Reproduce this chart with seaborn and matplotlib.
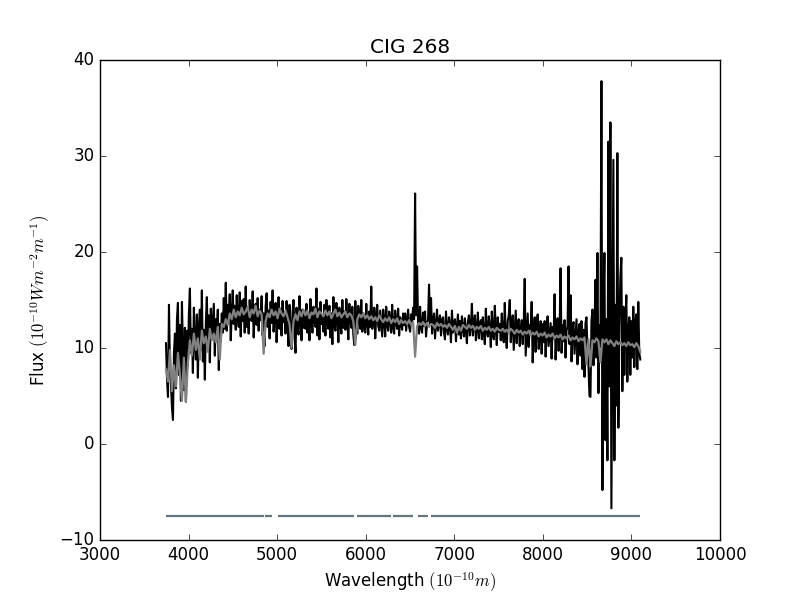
import numpy as np
import pandas as pd
import matplotlib
matplotlib.use("Agg")
import matplotlib.pyplot as plt
import seaborn as sns

# Domaine en longueur d'onde (Angstrom) des deux spectres
lambda_min = 3745.0
lambda_max = 9100.0

flux_obs = [
    10.5, 6.8, 4.9, 14.5, 8.0, 6.2, 3.8, 2.5, 9.5, 11.5, 5.8, 13.0, 14.7, 7.2, 12.4, 4.5, 14.8, 9.8, 5.6, 12.1,
    4.4, 11.8, 8.2, 13.6, 16.2, 9.5, 12.0, 7.4, 14.2, 10.6, 8.8, 13.5, 6.9, 12.2, 14.0, 9.8, 16.0, 8.6, 11.9, 6.7,
    12.6, 15.3, 10.2, 13.4, 8.5, 14.1, 11.0, 12.8, 14.6, 9.2, 13.0, 11.4, 14.0, 7.7, 12.5, 10.8, 13.6, 11.6, 15.2, 12.0,
    16.8, 11.8, 14.5, 12.9, 15.6, 10.8, 13.7, 16.0, 12.5, 14.4, 11.9, 15.5, 13.1, 12.2, 15.8, 11.2, 14.9, 12.8, 15.1, 11.6,
    16.4, 12.2, 14.2, 11.5, 15.0, 13.3, 12.8, 15.9, 11.1, 13.8, 14.6, 12.4, 15.2, 11.8, 14.0, 12.9, 15.4, 11.3, 13.6, 10.2,
    14.3, 15.7, 12.2, 13.9, 11.0, 14.8, 12.6, 16.0, 11.7, 13.5, 14.7, 10.6, 13.2, 15.3, 12.0, 14.1, 11.3, 14.9, 12.7, 13.4,
    11.5, 14.9, 12.8, 10.2, 14.5, 11.9, 9.9, 13.6, 15.0, 11.2, 9.5, 14.2, 12.4, 11.4, 15.4, 12.9, 10.8, 14.0, 12.1, 13.7,
    12.0, 14.6, 11.6, 13.5, 10.8, 15.1, 12.7, 11.6, 14.3, 13.0, 12.2, 16.2, 11.3, 14.1, 10.9, 14.8, 12.5, 13.3, 11.7, 14.5,
    11.3, 15.0, 12.9, 12.0, 14.4, 11.1, 13.6, 10.4, 15.3, 12.3, 11.8, 14.7, 13.2, 10.6, 14.2, 12.6, 11.5, 15.0, 12.1, 13.8,
    11.9, 15.1, 12.8, 10.9, 14.6, 13.0, 12.1, 14.3, 11.4, 10.3, 14.9, 12.5, 11.5, 14.4, 13.1, 12.0, 15.0, 11.7, 13.6, 12.4,
    11.6, 14.6, 12.7, 11.4, 13.8, 12.2, 16.4, 12.0, 13.3, 14.2, 11.0, 13.5, 14.5, 12.3, 11.8, 13.9, 12.6, 11.2, 14.0, 12.9,
    11.2, 14.3, 12.5, 11.8, 13.8, 12.9, 11.6, 14.5, 12.2, 11.5, 13.9, 12.7, 12.0, 14.1, 11.3, 13.2, 12.6, 11.9, 13.6, 12.4,
    13.6, 11.8, 12.9, 14.0, 12.2, 11.7, 13.5, 12.8, 14.2, 13.0, 26.1, 13.4, 18.5, 12.4, 11.5, 14.3, 12.1, 11.6, 13.7, 12.3,
    13.8, 11.2, 12.6, 12.9, 16.6, 12.5, 15.2, 11.5, 12.8, 13.6, 11.0, 12.4, 14.0, 11.8, 12.7, 13.4, 11.3, 12.9, 13.2, 11.6,
    10.9, 13.8, 12.0, 11.4, 13.2, 12.4, 10.6, 13.9, 11.6, 12.6, 13.0, 10.7, 12.2, 13.5, 11.4, 12.8, 11.0, 13.3, 12.1, 11.2,
    13.1, 11.7, 10.5, 12.7, 13.4, 11.3, 12.2, 14.6, 11.3, 12.6, 13.4, 10.8, 12.0, 13.7, 11.0, 12.4, 12.9, 10.9, 13.2, 11.5,
    10.4, 14.1, 11.8, 11.2, 13.3, 12.1, 10.1, 13.8, 11.6, 10.9, 14.4, 12.0, 10.3, 13.2, 11.7, 12.5, 10.8, 13.6, 11.4, 10.6,
    14.7, 11.3, 10.0, 12.8, 13.4, 15.0, 10.6, 12.2, 13.4, 9.8, 11.9, 13.9, 10.5, 12.6, 13.0, 10.2, 11.8, 12.9, 10.4, 12.3,
    17.2, 9.2, 11.5, 13.6, 10.1, 12.4, 12.0, 14.8, 8.5, 11.6, 13.2, 9.6, 12.1, 13.5, 9.9, 11.2, 12.8, 9.4, 12.5, 10.6,
    12.8, 9.1, 11.7, 13.3, 10.2, 11.4, 12.6, 8.9, 12.2, 11.0, 15.6, 8.8, 11.9, 13.1, 9.7, 11.5, 18.3, 9.5, 12.4, 10.7,
    12.9, 9.0, 11.8, 12.3, 18.5, 10.4, 15.5, 8.6, 12.1, 12.7, 9.4, 11.3, 13.0, 8.3, 11.6, 12.5, 9.2, 12.8, 7.8, 11.9,
    7.0, 12.6, 13.2, 9.8, 8.1, 5.0, 4.9, 12.8, 14.0, 8.2, 11.7, 17.1, 9.0, 19.9, 5.3, 12.4, 10.1, 37.8, -4.8, 13.5,
    19.9, 0.4, 13.0, -1.7, 31.5, 6.0, 33.5, -6.7, 12.2, 29.6, -1.7, 14.5, 4.0, 30.3, 1.7, 11.8, 17.4, 19.4, 5.5, 14.3,
    7.2, 12.9, 15.5, 6.5, 11.8, 13.2, 7.2, 12.8, 9.0, 14.3, 8.0, 12.6, 13.5, 7.8, 14.8, 9.5, 8.8,
]

# Spectre modele (gris), ~22 A par point
flux_model = [
    7.8, 6.5, 9.8, 5.5, 8.2, 6.0, 9.5, 7.2, 4.5, 9.0,
    4.4, 8.5, 10.8, 9.2, 11.5, 9.8, 11.0, 8.8, 11.8, 10.5,
    11.2, 9.6, 12.0, 10.8, 11.5, 10.6, 12.2, 8.8, 12.5, 12.2,
    13.0, 12.4, 13.6, 13.0, 14.0, 13.2, 13.8, 13.4, 14.2, 13.5,
    13.8, 14.3, 13.2, 14.0, 13.6, 14.4, 13.3, 13.9, 13.5, 9.4,
    12.8, 13.6, 13.2, 14.0, 13.4, 13.8, 13.1, 14.1, 13.6, 13.3,
    13.9, 13.2, 12.5, 10.0, 12.8, 13.5, 12.9, 13.8, 13.3, 14.0,
    13.4, 13.9, 13.1, 13.7, 13.5, 14.1, 13.2, 13.8, 13.6, 13.3,
    13.9, 13.4, 13.8, 13.1, 13.6, 14.0, 13.3, 13.7, 13.2, 13.5,
    13.8, 13.2, 13.6, 13.4, 12.8, 10.3, 13.0, 13.5, 13.2, 13.6,
    13.1, 13.4, 13.0, 13.3, 12.9, 13.2, 12.8, 13.4, 13.0, 12.7,
    13.1, 12.8, 13.2, 12.6, 13.0, 12.7, 13.1, 12.5, 12.9, 12.6,
    12.8, 12.5, 12.9, 12.4, 12.7, 9.1, 12.3, 12.6, 12.4, 12.7,
    12.3, 12.6, 12.2, 12.5, 12.4, 12.1, 12.6, 12.3, 12.5, 12.2,
    12.4, 12.1, 12.5, 12.2, 11.9, 12.3, 11.6, 12.2, 11.8, 12.4,
    12.2, 12.0, 12.4, 12.1, 12.3, 11.9, 12.2, 12.0, 12.3, 11.8,
    12.1, 11.9, 12.2, 11.8, 12.0, 11.7, 12.1, 11.9, 11.8, 12.0,
    11.7, 11.9, 11.6, 12.0, 11.8, 11.5, 11.9, 11.6, 11.8, 11.4,
    11.7, 11.5, 11.8, 11.3, 11.6, 11.4, 11.7, 11.2, 11.5, 11.3,
    11.6, 11.1, 11.4, 11.2, 11.5, 11.0, 11.3, 11.1, 11.4, 10.9,
    11.2, 11.0, 11.3, 10.8, 11.1, 10.9, 11.2, 10.7, 11.0, 10.8,
    11.1, 8.3, 10.9, 8.1, 10.8, 10.6, 11.0, 10.7, 8.5, 10.9,
    10.6, 10.9, 10.4, 10.8, 10.5, 10.2, 10.7, 10.4, 10.6, 10.3,
    10.5, 10.2, 10.6, 10.3, 10.4, 10.1, 10.5, 10.2, 9.6,
]

# Zones du masque (debut, fin) et niveau
mask_start = [3745, 4866, 5006, 5902, 6308, 6594, 6737]
mask_end = [4850, 4942, 5868, 6282, 6530, 6699, 9100]
mask_level = -7.5

df_obs = pd.DataFrame({"wavelength": np.linspace(lambda_min, lambda_max, len(flux_obs)),
                       "flux": flux_obs})
df_model = pd.DataFrame({"wavelength": np.linspace(lambda_min, lambda_max, len(flux_model)),
                         "flux": flux_model})

plt.style.use("classic")
fig, ax = plt.subplots(figsize=(8, 6))

sns.lineplot(data=df_obs, x="wavelength", y="flux", color="black", lw=1.5,
             estimator=None, sort=False, legend=False, ax=ax)
sns.lineplot(data=df_model, x="wavelength", y="flux", color="0.5", lw=1.6,
             estimator=None, sort=False, legend=False, ax=ax)
ax.hlines([mask_level] * len(mask_start), mask_start, mask_end,
          color="#667680", lw=1.6)

ax.set_xlim(3000, 10000)
ax.set_ylim(-10, 40)
ax.set_title("CIG 268")
ax.set_xlabel(r"Wavelength $(10^{-10}m)$")
ax.set_ylabel(r"Flux $(10^{-10}Wm^{-2}m^{-1})$")

fig.savefig("out.png", dpi=100)
